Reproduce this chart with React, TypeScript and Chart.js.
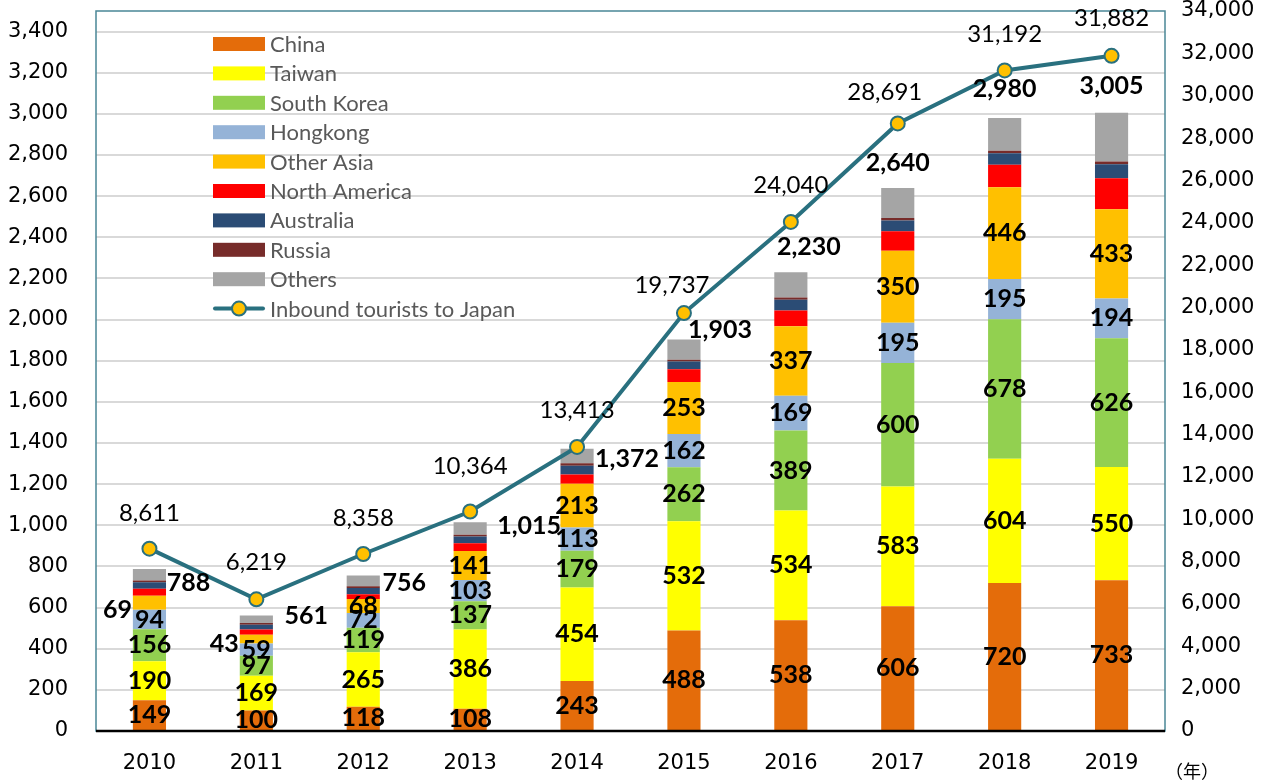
import React, { useEffect, useRef } from 'react';
import { Chart, registerables } from 'chart.js';

Chart.register(...registerables);

const years = ['2010', '2011', '2012', '2013', '2014', '2015', '2016', '2017', '2018', '2019'];
const china = [149, 100, 118, 108, 243, 488, 538, 606, 720, 733];
const taiwan = [190, 169, 265, 386, 454, 532, 534, 583, 604, 550];
const southKorea = [156, 97, 119, 137, 179, 262, 389, 600, 678, 626];
const hongkong = [94, 59, 72, 103, 113, 162, 169, 195, 195, 194];
const otherAsia = [69, 43, 68, 141, 213, 253, 337, 350, 446, 433];
const northAmerica = [33, 25, 23, 38, 45, 61, 77, 95, 110, 151];
const australia = [32, 24, 30, 33, 42, 38, 52, 52, 55, 68];
const russia = [9, 8, 9, 8, 13, 9, 11, 13, 13, 13];
const others = [56, 36, 52, 61, 70, 98, 123, 146, 159, 237];
const totals = [788, 561, 756, 1015, 1372, 1903, 2230, 2640, 2980, 3005];
const inbound = [8611, 6219, 8358, 10364, 13413, 19737, 24040, 28691, 31192, 31882];
const leftTickValues = [0, 200, 400, 600, 800, 1000, 1200, 1400, 1600, 1800, 2000, 2200, 2400, 2600, 2800, 3000, 3200, 3400];

const seriesNames = ['China', 'Taiwan', 'South Korea', 'Hongkong', 'Other Asia', 'North America', 'Australia', 'Russia', 'Others'];
const lineName = 'Inbound tourists to Japan';
const yearUnit = '（年）';

// styling / placement (not data)
const barColors = ['#E46C0A', '#FFFF00', '#92D050', '#95B3D7', '#FFC000', '#FF0000', '#2B4C75', '#772C2A', '#A5A5A5'];
const lineColor = '#29707F';
const markerColor = '#FFC000';
const totalOffsets = [[39, 14], [50, 0], [41, 7], [59, 4], [50, 10], [36, -10], [18, -25], [0, -25], [0, -29], [0, -27]];
const lineLabelOffsets = [[0, -35], [0, -37], [0, -36], [0, -45], [0, -37], [-12, -28], [0, -37], [-13, -31], [0, -36], [0, -38]];
const otherAsiaOutside = [true, true, false, false, false, false, false, false, false, false];

const fmt = (v: number) => v.toLocaleString('en-US');

const labelPlugin = {
  id: 'customLabels',
  afterDatasetsDraw(chart: any) {
    const ctx = chart.ctx;
    const area = chart.chartArea;
    ctx.save();
    // plot border
    ctx.strokeStyle = '#4A8796';
    ctx.lineWidth = 1.5;
    ctx.strokeRect(area.left, area.top, area.right - area.left, area.bottom - area.top);
    ctx.strokeStyle = '#000000';
    ctx.lineWidth = 2.5;
    ctx.beginPath();
    ctx.moveTo(area.left, area.bottom);
    ctx.lineTo(area.right, area.bottom);
    ctx.stroke();

    // segment labels
    ctx.fillStyle = '#000000';
    ctx.font = 'bold 25px Lato';
    ctx.textBaseline = 'middle';
    for (let i = 0; i < 5; i++) {
      const meta = chart.getDatasetMeta(i);
      const data = chart.data.datasets[i].data as number[];
      meta.data.forEach((bar: any, j: number) => {
        const p = bar.getProps(['x', 'y', 'base', 'width'], true);
        if (i === 4 && otherAsiaOutside[j]) {
          ctx.textAlign = 'right';
          ctx.fillText(fmt(data[j]), p.x - p.width / 2 - 1, p.base);
        } else {
          ctx.textAlign = 'center';
          ctx.fillText(fmt(data[j]), p.x, (p.y + p.base) / 2);
        }
      });
    }
    // totals
    const topMeta = chart.getDatasetMeta(8);
    ctx.textAlign = 'center';
    topMeta.data.forEach((bar: any, j: number) => {
      const p = bar.getProps(['x', 'y'], true);
      ctx.fillText(fmt(totals[j]), p.x + totalOffsets[j][0], p.y + totalOffsets[j][1]);
    });
    // line labels
    ctx.font = '24px Lato';
    const lineMeta = chart.getDatasetMeta(9);
    lineMeta.data.forEach((pt: any, j: number) => {
      const p = pt.getProps(['x', 'y'], true);
      ctx.fillText(fmt(inbound[j]), p.x + lineLabelOffsets[j][0], p.y + lineLabelOffsets[j][1]);
    });

    // legend
    const lx = 213;
    const ly0 = 44;
    const step = 29.4;
    ctx.font = '22px Lato';
    ctx.textAlign = 'left';
    seriesNames.forEach((name, i) => {
      const y = ly0 + i * step;
      ctx.fillStyle = barColors[i];
      ctx.fillRect(lx, y - 7, 52, 14);
      ctx.fillStyle = '#595959';
      ctx.fillText(name, lx + 57, y + 1);
    });
    const yl = ly0 + seriesNames.length * step;
    ctx.strokeStyle = lineColor;
    ctx.lineWidth = 4;
    ctx.lineCap = 'round';
    ctx.beginPath();
    ctx.moveTo(lx + 2, yl);
    ctx.lineTo(lx + 50, yl);
    ctx.stroke();
    ctx.beginPath();
    ctx.arc(lx + 26, yl, 7, 0, Math.PI * 2);
    ctx.fillStyle = markerColor;
    ctx.fill();
    ctx.lineWidth = 2;
    ctx.stroke();
    ctx.fillStyle = '#595959';
    ctx.fillText(lineName, lx + 57, yl + 1);

    // year unit
    ctx.fillStyle = '#000000';
    ctx.font = '18px "Noto Sans CJK JP"';
    ctx.textAlign = 'center';
    ctx.fillText(yearUnit, 1192, 771);
    ctx.restore();
  },
};

const noPad = (s: any) => {
  s.paddingTop = 0;
  s.paddingBottom = 0;
};

const tickFont = { family: '"DejaVu Sans"', size: 21 };

export default function App() {
  const ref = useRef<HTMLCanvasElement | null>(null);
  useEffect(() => {
    document.body.style.margin = '0';
    const canvas = ref.current;
    if (!canvas) return;
    const barSeries = [china, taiwan, southKorea, hongkong, otherAsia, northAmerica, australia, russia, others];
    const datasets: any[] = barSeries.map((d, i) => ({
      type: 'bar',
      label: seriesNames[i],
      data: d,
      backgroundColor: barColors[i],
      borderWidth: 0,
      yAxisID: 'y',
      stack: 'bars',
      order: 2,
      barPercentage: 0.31,
      categoryPercentage: 1,
    }));
    datasets.push({
      type: 'line',
      label: lineName,
      data: inbound,
      yAxisID: 'y1',
      borderColor: lineColor,
      borderWidth: 4,
      pointRadius: 7,
      pointBackgroundColor: markerColor,
      pointBorderColor: lineColor,
      pointBorderWidth: 2,
      tension: 0,
      order: 0,
    });
    const chart = new Chart(canvas, {
      type: 'bar',
      data: { labels: years, datasets },
      options: {
        animation: false,
        responsive: false,
        devicePixelRatio: 1,
        layout: { padding: { top: 11, left: 0, right: 0, bottom: 0 } },
        plugins: { legend: { display: false }, tooltip: { enabled: false } },
        scales: {
          x: {
            stacked: true,
            grid: { display: false },
            border: { display: false },
            ticks: { color: '#000', font: tickFont, padding: 12 },
            afterFit: (s: any) => { s.height = 52; s.paddingLeft = 0; s.paddingRight = 0; },
          },
          y: {
            stacked: true,
            position: 'left',
            min: 0,
            max: 3500,
            grid: { color: '#D9D9D9', lineWidth: 2, drawTicks: false },
            border: { display: false },
            ticks: {
              autoSkip: false,
              color: '#000',
              padding: 28,
              font: tickFont,
              callback: (v: any) => fmt(Number(v)),
            },
            afterBuildTicks: (s: any) => { s.ticks = leftTickValues.map((v) => ({ value: v })); },
            afterFit: (s: any) => { s.width = 96; noPad(s); },
          },
          y1: {
            position: 'right',
            min: 0,
            max: 34000,
            grid: { display: false, drawTicks: false },
            border: { display: false },
            ticks: {
              stepSize: 2000,
              autoSkip: false,
              color: '#000',
              padding: 16,
              font: tickFont,
              callback: (v: any) => fmt(Number(v)),
            },
            afterFit: (s: any) => { s.width = 109; noPad(s); },
          },
        },
      },
      plugins: [labelPlugin],
    } as any);
    return () => chart.destroy();
  }, []);
  return (
    <div style={{ position: 'fixed', left: 0, top: 0, width: 1274, height: 783 }}>
      <canvas ref={ref} width={1274} height={783} style={{ width: 1274, height: 783 }} />
    </div>
  );
}
